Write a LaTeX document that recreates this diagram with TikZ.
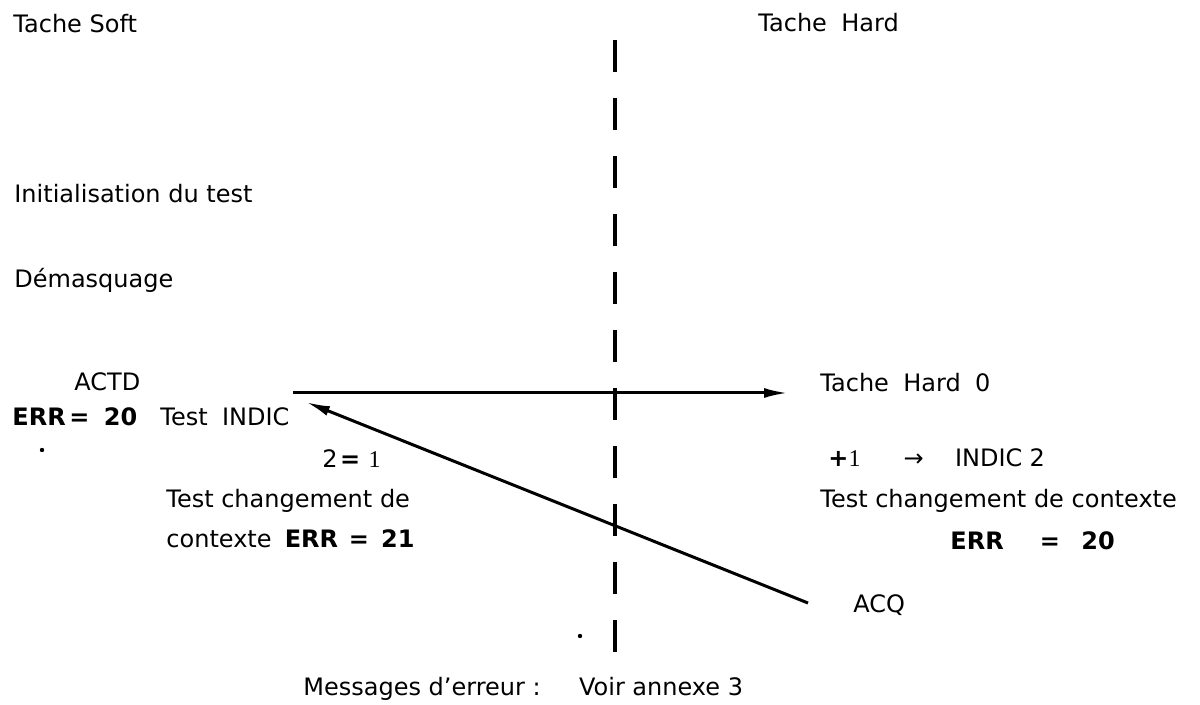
\documentclass[tikz,border=0pt]{standalone}
\usepackage{fontspec}
\setmainfont{DejaVu Sans}
\newfontfamily\serifone{Liberation Serif}
\usetikzlibrary{arrows.meta}
\begin{document}
\begin{tikzpicture}[x=0.5pt,y=-0.5pt,
  lbl/.style={anchor=base west,inner sep=0pt,font=\fontsize{12}{14}\selectfont},
  arr/.style={line width=1.5pt,-{Latex[length=12pt,width=5pt]}},
  sep/.style={line width=1.8pt,dash pattern=on 16pt off 13pt},
  speck/.style={circle,fill,inner sep=0pt,minimum size=2.2pt}]
\useasboundingbox[fill=white] (0,0) rectangle (1200,705);
% separator
\coordinate (st) at (615,40);
\coordinate (sb) at (615,676);
\draw[sep] (st) -- (sb);
% headers
\node[lbl] (soft) at (13,33) {Tache Soft};
\node[lbl] (hard) at (758,32) {Tache\hspace{0.6em}Hard};
% left column
\node[lbl] (init) at (14,203) {Initialisation du test};
\node[lbl] (demasq) at (14,288) {Démasquage};
\node[lbl] (actd) at (74,391) {ACTD};
\node[lbl] (errl) at (12,426) {\bfseries ERR\hspace{0.15em}=\hspace{0.6em}20};
\node[lbl] (tindic) at (160,426) {Test\hspace{0.6em}INDIC};
\node[lbl] (eq) at (322,468) {2\hspace{0.1em}{\bfseries =}\hspace{0.35em}{\serifone 1}};
\node[lbl] (tcl1) at (166,508) {Test changement de};
\node[lbl] (tcl2) at (166,547) {contexte\hspace{0.55em}{\bfseries ERR\hspace{0.45em}=\hspace{0.5em}21}};
\node[speck] (dot1) at (42,450) {};
% right column
\node[lbl] (hard0) at (820,392) {Tache\hspace{0.6em}Hard\hspace{0.6em}0};
\node[lbl] (plus) at (828,467) {{\bfseries +}{\serifone 1}\hspace{1.8em}→\hspace{1.3em}INDIC\hspace{0.3em}2};
\node[lbl] (tcr) at (820,508) {Test changement de contexte};
\node[lbl] (errr) at (950,550) {\bfseries ERR\hspace{1.5em}=\hspace{0.9em}20};
\node[lbl] (acq) at (853,612) {ACQ};
\node[speck] (dot2) at (580,636) {};
% bottom note
\node[lbl] (msg) at (303,695) {Messages d'erreur :\hspace{1.6em}Voir annexe 3};
% connectors
\coordinate (hs) at (293,393);
\coordinate (he) at (788,393);
\draw[arr] (hs) -- (he);
\coordinate (ds) at (808,603);
\coordinate (dt) at (306,402);
\draw[arr] (ds) -- (dt);
\end{tikzpicture}
\end{document}
